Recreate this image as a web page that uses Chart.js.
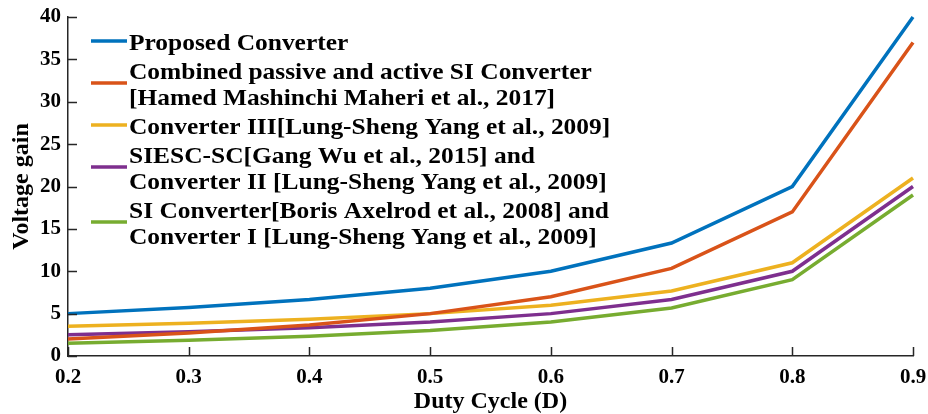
<!DOCTYPE html>
<html>
<head>
<meta charset="utf-8">
<script src="https://cdn.jsdelivr.net/npm/chart.js@4/dist/chart.umd.min.js"></script>
<style>
  html, body { margin: 0; padding: 0; background: #ffffff; }
  #wrap { width: 928px; height: 414px; }
</style>
</head>
<body>
<div id="wrap"><canvas id="gain" width="928" height="414"></canvas></div>
<script>
// Duty cycle D on the x axis
const dutyCycle = [0.2, 0.3, 0.4, 0.5, 0.6, 0.7, 0.8, 0.9];

// Voltage gain of each topology at the duty cycles above
const proposedGain  = [5, 5.71, 6.67, 8, 10, 13.33, 20, 40];
const combinedGain  = [2, 2.71, 3.67, 5, 7, 10.33, 17, 37];
const converter3    = [3.5, 3.86, 4.33, 5, 6, 7.67, 11, 21];
const siescGain     = [2.5, 2.86, 3.33, 4, 5, 6.67, 10, 20];
const siConverter   = [1.5, 1.86, 2.33, 3, 4, 5.67, 9, 19];

// Legend labels (one array per entry, one string per text line)
const seriesLabels = [
  ["Proposed Converter"],
  ["Combined passive and active SI Converter", "[Hamed Mashinchi Maheri et al., 2017]"],
  ["Converter III[Lung-Sheng Yang et al., 2009]"],
  ["SIESC-SC[Gang Wu et al., 2015] and", "Converter II [Lung-Sheng Yang et al., 2009]"],
  ["SI Converter[Boris Axelrod et al., 2008] and", "Converter I [Lung-Sheng Yang et al., 2009]"]
];
const seriesValues = [proposedGain, combinedGain, converter3, siescGain, siConverter];
const seriesColors = ["#0072BD", "#D95319", "#EDB120", "#7E2F8E", "#77AC30"];

// Axis ticks
const xTicks = [0.2, 0.3, 0.4, 0.5, 0.6, 0.7, 0.8, 0.9];
const yTicks = [0, 5, 10, 15, 20, 25, 30, 35, 40];

const FONT_FAMILY = "'Liberation Serif', 'Times New Roman', serif";
const AXIS_COLOR = "#262626";

const datasets = seriesValues.map((vals, i) => ({
  label: seriesLabels[i].join(" "),
  data: dutyCycle.map((d, k) => ({ x: d, y: vals[k] })),
  borderColor: seriesColors[i],
  backgroundColor: seriesColors[i],
  borderWidth: 3.5,
  pointRadius: 0,
  tension: 0,
  clip: false
}));

// Inward-facing tick marks on the left and bottom axes
const innerTicks = {
  id: "innerTicks",
  afterDatasetsDraw(chart) {
    const { ctx, chartArea, scales } = chart;
    ctx.save();
    ctx.strokeStyle = AXIS_COLOR;
    ctx.lineWidth = 1.5;
    ctx.beginPath();
    yTicks.forEach(v => {
      const y = Math.round(scales.y.getPixelForValue(v)) + 0.5;
      ctx.moveTo(chartArea.left, y);
      ctx.lineTo(chartArea.left + 9, y);
    });
    xTicks.forEach(v => {
      const x = Math.round(scales.x.getPixelForValue(v)) + 0.5;
      ctx.moveTo(x, chartArea.bottom);
      ctx.lineTo(x, chartArea.bottom - 9);
    });
    ctx.stroke();
    ctx.restore();
  }
};

// Legend box in the upper left of the plot, with wrapped entries
const wrappedLegend = {
  id: "wrappedLegend",
  afterDraw(chart) {
    const { ctx, chartArea } = chart;
    const lineX0 = chartArea.left + 23;
    const lineX1 = chartArea.left + 59;
    const textX = chartArea.left + 61;
    const rowStep = 26;
    const entryStep = 29;
    const widen = 1.06;
    let baseline = chartArea.top + 33;
    ctx.save();
    ctx.font = "bold 24px " + FONT_FAMILY;
    ctx.textBaseline = "alphabetic";
    ctx.textAlign = "left";
    seriesLabels.forEach((lines, i) => {
      const first = baseline;
      lines.forEach((t, j) => {
        ctx.save();
        ctx.translate(textX, baseline);
        ctx.scale(widen, 1);
        ctx.fillStyle = "#000000";
        ctx.fillText(t, 0, 0);
        ctx.restore();
        if (j < lines.length - 1) baseline += rowStep;
      });
      const last = baseline;
      const ly = (first + last) / 2 - 9;
      ctx.strokeStyle = seriesColors[i];
      ctx.lineWidth = 3.5;
      ctx.beginPath();
      ctx.moveTo(lineX0, ly);
      ctx.lineTo(lineX1, ly);
      ctx.stroke();
      baseline += entryStep;
    });
    ctx.restore();
  }
};

new Chart(document.getElementById("gain"), {
  type: "line",
  data: { datasets },
  options: {
    responsive: false,
    animation: false,
    devicePixelRatio: 1,
    layout: { padding: { top: 17, right: 15, left: 0, bottom: 0 } },
    plugins: {
      legend: { display: false },
      tooltip: { enabled: false }
    },
    scales: {
      x: {
        type: "linear",
        min: 0.2,
        max: 0.9,
        afterBuildTicks(scale) { scale.ticks = xTicks.map(v => ({ value: v })); },
        afterFit(scale) {
          scale.height = 58;
          scale.paddingLeft = 0;
          scale.paddingRight = 0;
        },
        grid: { display: false, drawTicks: false },
        border: { display: true, color: AXIS_COLOR, width: 1.5 },
        ticks: {
          padding: 9,
          color: "#000000",
          font: { family: FONT_FAMILY, size: 21, weight: "bold" },
          callback: v => Number(v).toFixed(1)
        },
        title: {
          display: true,
          text: "Duty Cycle (D)",
          color: "#000000",
          font: { family: FONT_FAMILY, size: 24, weight: "bold", lineHeight: 1 },
          padding: { top: 0, bottom: 0 }
        }
      },
      y: {
        type: "linear",
        min: 0,
        max: 40,
        afterBuildTicks(scale) { scale.ticks = yTicks.map(v => ({ value: v })); },
        afterFit(scale) {
          scale.width = 68;
          scale.paddingTop = 0;
          scale.paddingBottom = 0;
        },
        grid: { display: false, drawTicks: false },
        border: { display: true, color: AXIS_COLOR, width: 1.5 },
        ticks: {
          padding: 7,
          color: "#000000",
          font: { family: FONT_FAMILY, size: 21, weight: "bold" }
        },
        title: {
          display: true,
          text: "Voltage gain",
          color: "#000000",
          font: { family: FONT_FAMILY, size: 24, weight: "bold", lineHeight: 1 },
          padding: { top: 10, bottom: 0 }
        }
      }
    }
  },
  plugins: [innerTicks, wrappedLegend]
});
</script>
</body>
</html>
